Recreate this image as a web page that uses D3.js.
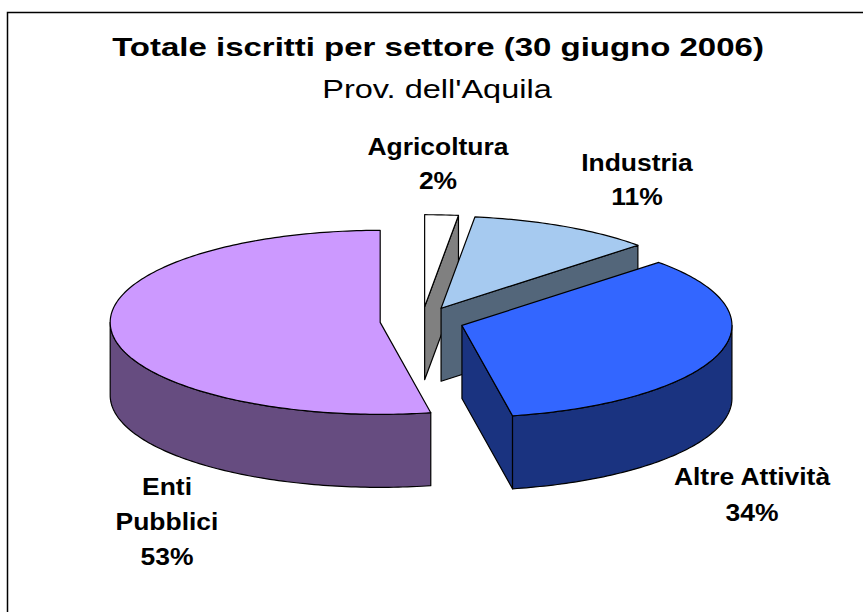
<!DOCTYPE html>
<html>
<head>
<meta charset="utf-8">
<script src="https://cdn.jsdelivr.net/npm/d3@7"></script>
<style>
  body { margin: 0; background: #fff; }
  text { font-family: "Liberation Sans", Arial, sans-serif; fill: #000; }
</style>
</head>
<body>
<div id="chart"></div>
<script>
// data
var categories = ["Agricoltura", "Industria", "Altre Attività", "Enti Pubblici"];
var values = [2, 11, 34, 53];
var topColors = ["#ffffff", "#a6caf0", "#3366ff", "#cc99ff"];
var sideColors = ["#808080", "#53667a", "#1a3380", "#664c80"];

var title = "Totale iscritti per settore (30 giugno 2006)";
var subtitle = "Prov. dell'Aquila";

var width = 863, height = 612;
var cx = 422, cy = 321, rx = 270, ry = 92, depth = 73, explode = 42;

var svg = d3.select("#chart").append("svg")
  .attr("width", width)
  .attr("height", height);

// frame (right and bottom run off the picture)
svg.append("rect")
  .attr("x", 7.5).attr("y", 12.5)
  .attr("width", 900).attr("height", 650)
  .attr("fill", "none")
  .attr("stroke", "#000")
  .attr("stroke-width", 1.5);

var total = d3.sum(values);
var pct = d3.format(".0%");

var arcs = d3.pie().sort(null).value(function(d) { return d; })(values);

var slices = arcs.map(function(p, i) {
  var m = (p.startAngle + p.endAngle) / 2;
  return {
    i: i, a0: p.startAngle, a1: p.endAngle, m: m,
    ox: explode * Math.sin(m),
    oy: -explode * Math.cos(m) * ry / rx
  };
});

function pt(s, a, z) {
  return [cx + s.ox + rx * Math.sin(a), cy + s.oy - ry * Math.cos(a) + z];
}
function apex(s, z) {
  return [cx + s.ox, cy + s.oy + z];
}
function arcPts(s, a0, a1, z) {
  var n = Math.max(2, Math.ceil(Math.abs(a1 - a0) / (Math.PI / 180)));
  return d3.range(n + 1).map(function(j) { return pt(s, a0 + (a1 - a0) * j / n, z); });
}

var line = d3.line();

function face(g, pts, fill) {
  g.append("path")
    .attr("d", line(pts) + "Z")
    .attr("fill", fill)
    .attr("stroke", "#000")
    .attr("stroke-width", 1.2)
    .attr("stroke-linejoin", "round");
}

// back slices first
var order = slices.slice().sort(function(a, b) { return -Math.cos(a.m) - -Math.cos(b.m); });

order.forEach(function(s) {
  var g = svg.append("g").attr("class", "slice");
  var side = sideColors[s.i];

  // start cut face
  if (Math.sin(s.a0) < -1e-6) {
    face(g, [apex(s, 0), pt(s, s.a0, 0), pt(s, s.a0, depth), apex(s, depth)], side);
  }
  // end cut face
  if (Math.sin(s.a1) > 1e-6) {
    face(g, [apex(s, 0), pt(s, s.a1, 0), pt(s, s.a1, depth), apex(s, depth)], side);
  }
  // outer wall, front half only
  var lo = Math.max(s.a0, Math.PI / 2), hi = Math.min(s.a1, 3 * Math.PI / 2);
  if (hi > lo) {
    face(g, arcPts(s, lo, hi, 0).concat(arcPts(s, hi, lo, depth)), side);
  }
  // top
  face(g, [apex(s, 0)].concat(arcPts(s, s.a0, s.a1, 0)), topColors[s.i]);
});

function addText(x, y, str, size, weight, sx) {
  svg.append("text")
    .attr("transform", "translate(" + x + "," + y + ") scale(" + sx + ",1)")
    .attr("text-anchor", "middle")
    .style("font-size", size + "px")
    .style("font-weight", weight)
    .text(str);
}

addText(438, 56, title, 26.5, "bold", 1.245);
addText(437, 98, subtitle, 26, "normal", 1.25);

// labels: lines split by hand where the original wraps
var labelLayout = [
  { x: 438, ys: [155, 189], lines: [categories[0]] },
  { x: 637, ys: [171, 205], lines: [categories[1]] },
  { x: 752, ys: [485, 521], lines: [categories[2]] },
  { x: 167, ys: [495, 530, 565], lines: categories[3].split(" ") }
];

labelLayout.forEach(function(l, i) {
  var lines = l.lines.concat([pct(values[i] / total)]);
  lines.forEach(function(t, j) {
    addText(l.x, l.ys[j], t, 24.5, "bold", 1.08);
  });
});
</script>
</body>
</html>
